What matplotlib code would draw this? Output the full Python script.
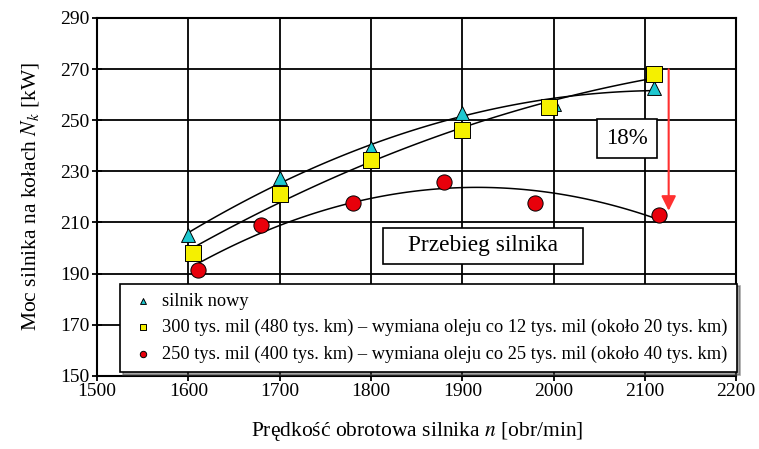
import matplotlib.pyplot as plt
from matplotlib.patches import Rectangle
import numpy as np

plt.rcParams['font.family'] = ['Liberation Serif', 'DejaVu Serif']
plt.rcParams['mathtext.fontset'] = 'stix'

# silnik nowy
x_new = [1600, 1700, 1800, 1900, 2000, 2110]
y_new = [205, 227.5, 239, 253, 256.5, 262.5]
# 300 tys. mil
x_300 = [1605, 1700, 1800, 1900, 1995, 2110]
y_300 = [198, 221, 234.5, 246, 255, 268]
# 250 tys. mil
x_250 = [1610, 1680, 1780, 1880, 1980, 2115]
y_250 = [191.5, 209, 217.5, 226, 217.5, 213]

labels = ['silnik nowy',
          '300 tys. mil (480 tys. km) – wymiana oleju co 12 tys. mil (około 20 tys. km)',
          '250 tys. mil (400 tys. km) – wymiana oleju co 25 tys. mil (około 40 tys. km)']

xticks = np.arange(1500, 2201, 100)
yticks = np.arange(150, 291, 20)

fig = plt.figure(figsize=(7.59, 4.49), dpi=100)
ax = fig.add_axes([0.128, 0.163, 0.842, 0.797])

ax.set_xlim(1500, 2200)
ax.set_ylim(150, 290)
ax.set_xticks(xticks)
ax.set_yticks(yticks)
ax.grid(True, color='black', linewidth=1.3)
ax.set_axisbelow(True)
for s in ax.spines.values():
    s.set_linewidth(1.5)
ax.tick_params(direction='inout', length=7, width=1.3, labelsize=14, pad=2)

# trend lines (quadratic fits)
for xs, ys in [(x_new, y_new), (x_300, y_300), (x_250, y_250)]:
    c = np.polyfit(xs, ys, 2)
    xx = np.linspace(xs[0], xs[-1], 100)
    ax.plot(xx, np.polyval(c, xx), color='black', linewidth=1.1, zorder=3)

ax.scatter(x_new, y_new, marker='^', s=100, color='#1ec8d0', edgecolor='black', linewidth=0.7, zorder=4, label=labels[0])
ax.scatter(x_300, y_300, marker='s', s=120, color='#f5f000', edgecolor='black', linewidth=0.7, zorder=4, label=labels[1])
ax.scatter(x_250, y_250, marker='o', s=120, color='#e8000b', edgecolor='black', linewidth=0.7, zorder=4, label=labels[2])

ax.annotate('', xy=(2126, 213.5), xytext=(2126, 271),
            arrowprops=dict(arrowstyle='-|>', color='#ff3030', lw=1.5, mutation_scale=22), zorder=5)

# annotation boxes
ax.add_patch(Rectangle((2047.7, 235.3), 65.8, 15.2, facecolor='white', edgecolor='black', lw=1.2, zorder=5))
ax.text(2080.6, 242.9, '18%', fontsize=16.5, ha='center', va='center', zorder=6)
ax.add_patch(Rectangle((1813.3, 193.8), 219.1, 14.1, facecolor='white', edgecolor='black', lw=1.2, zorder=5))
ax.text(1923, 200.8, 'Przebieg silnika', fontsize=16.8, ha='center', va='center', zorder=6)

leg = ax.legend(loc='lower left', bbox_to_anchor=(0.036, 0.011), borderaxespad=0,
                fontsize=13.2, markerscale=0.42, handletextpad=0.3, borderpad=0.5,
                labelspacing=0.5, fancybox=False, shadow=True, framealpha=1,
                edgecolor='black', handlelength=1.5)
leg.get_frame().set_linewidth(1.2)
leg.set_zorder(7)

ax.set_xlabel('Prędkość obrotowa silnika $n$ [obr/min]', fontsize=15.5, labelpad=14)
ax.set_ylabel('Moc silnika na kołach $N_k$ [kW]', fontsize=15.5, labelpad=14)

fig.savefig('out.png', dpi=100)
